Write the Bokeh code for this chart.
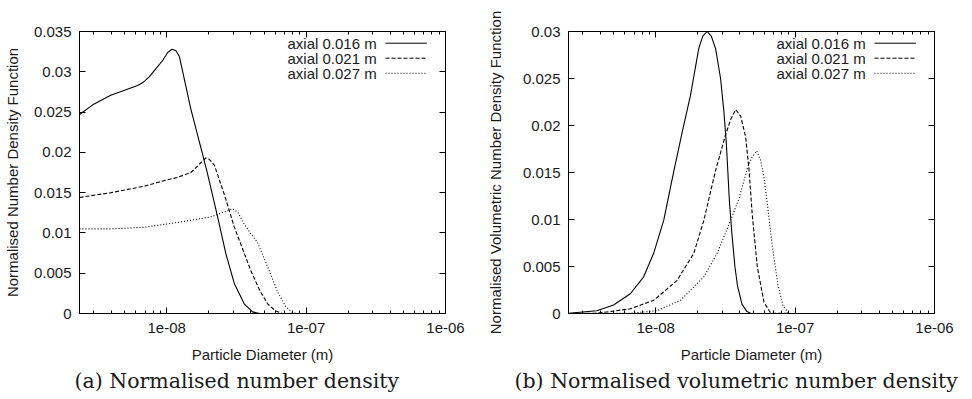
import math
from bokeh.plotting import figure
from bokeh.layouts import row
from bokeh.models import (FixedTicker, LogAxis, LinearAxis, CustomJSTickFormatter,
                          Label, Title, Range1d)
from bokeh.embed import file_html
from bokeh.resources import INLINE

# ---------------- data ----------------
series_labels = ["axial 0.016 m", "axial 0.021 m", "axial 0.027 m"]

x_major = [1e-8, 1e-7, 1e-6]
x_minor = [k * 10.0 ** e for e in (-9, -8, -7) for k in range(2, 10)]
y_major_a = [0.0, 0.005, 0.01, 0.015, 0.02, 0.025, 0.03, 0.035]
y_major_b = [0.0, 0.005, 0.01, 0.015, 0.02, 0.025, 0.03]

# (a) normalised number density
d_a_016 = [2.37e-9, 2.95e-9, 3.97e-9, 6.19e-9, 6.92e-9, 7.52e-9, 8.38e-9, 9.36e-9, 1.017e-8,
           1.092e-8, 1.166e-8, 1.233e-8, 1.49e-8, 1.936e-8, 2.32e-8, 2.66e-8, 3.06e-8,
           3.60e-8, 4.13e-8, 4.64e-8, 1.0e-7, 1.0e-6]
n_a_016 = [0.0247, 0.0259, 0.0271, 0.0283, 0.0288, 0.0294, 0.0304, 0.0314, 0.0324,
           0.0328, 0.0326, 0.0319, 0.0254, 0.0178, 0.0120, 0.0074, 0.0037,
           0.0012, 0.0002, 0.0, 0.0, 0.0]

d_a_021 = [2.37e-9, 3.99e-9, 6.92e-9, 9.63e-9, 1.20e-8, 1.49e-8, 1.668e-8, 1.80e-8, 1.91e-8,
           2.03e-8, 2.20e-8, 2.60e-8, 3.06e-8, 4.02e-8, 4.64e-8, 5.30e-8, 6.05e-8, 6.8e-8,
           1.0e-7, 1.0e-6]
n_a_021 = [0.0144, 0.0150, 0.0158, 0.0165, 0.0169, 0.0175, 0.0183, 0.0189, 0.0193,
           0.0191, 0.0184, 0.0147, 0.0107, 0.0053, 0.0029, 0.0012, 0.0003, 0.0,
           0.0, 0.0]

d_a_027 = [2.37e-9, 3.99e-9, 6.92e-9, 1.20e-8, 2.08e-8, 2.59e-8, 2.97e-8, 3.23e-8, 3.60e-8,
           4.02e-8, 4.49e-8, 5.30e-8, 6.24e-8, 7.13e-8, 8.0e-8, 8.69e-8, 1.0e-7, 1.0e-6]
n_a_027 = [0.0105, 0.0105, 0.0107, 0.0113, 0.0120, 0.0126, 0.0130, 0.0126, 0.0111,
           0.0099, 0.0088, 0.0058, 0.0027, 0.0009, 0.0001, 0.0, 0.0, 0.0]

# (b) normalised volumetric number density
d_b_016 = [2.37e-9, 3.78e-9, 4.99e-9, 6.58e-9, 8.20e-9, 9.67e-9, 1.142e-8, 1.347e-8, 1.55e-8,
           1.777e-8, 2.038e-8, 2.178e-8, 2.339e-8, 2.507e-8, 2.688e-8, 2.921e-8, 3.085e-8,
           3.216e-8, 3.296e-8, 3.379e-8, 3.522e-8, 3.701e-8, 3.858e-8, 4.156e-8, 4.516e-8,
           4.826e-8, 1.0e-7, 1.0e-6]
v_b_016 = [0.00003, 0.0003, 0.0009, 0.0021, 0.0039, 0.0064, 0.0099, 0.0151, 0.0193,
           0.0232, 0.0282, 0.0295, 0.0300, 0.0295, 0.0282, 0.0250, 0.0215,
           0.0180, 0.0150, 0.0120, 0.0085, 0.0050, 0.0030, 0.0010, 0.0002,
           0.0, 0.0, 0.0]

d_b_021 = [2.37e-9, 3.78e-9, 6.58e-9, 9.67e-9, 1.42e-8, 1.877e-8, 2.215e-8, 2.688e-8, 3.171e-8,
           3.446e-8, 3.745e-8, 4.069e-8, 4.418e-8, 4.668e-8, 4.93e-8, 5.356e-8, 5.98e-8,
           6.686e-8, 1.0e-7, 1.0e-6]
v_b_021 = [0.0, 0.00002, 0.0005, 0.0014, 0.0035, 0.0064, 0.0099, 0.0152, 0.0190,
           0.0206, 0.0217, 0.0210, 0.0188, 0.0154, 0.0105, 0.0050, 0.0012,
           0.00003, 0.0, 0.0]

d_b_027 = [2.37e-9, 6.6e-9, 1.022e-8, 1.506e-8, 2.215e-8, 2.761e-8, 3.446e-8, 3.955e-8, 4.54e-8,
           4.9e-8, 5.304e-8, 5.66e-8, 5.984e-8, 6.288e-8, 6.886e-8, 7.545e-8, 8.196e-8,
           9.05e-8, 1.0e-7, 1.0e-6]
v_b_027 = [0.0, 0.00002, 0.0003, 0.0014, 0.0039, 0.0064, 0.0099, 0.0122, 0.0154,
           0.0166, 0.0173, 0.0163, 0.0145, 0.0120, 0.0070, 0.0030, 0.0008,
           0.0, 0.0, 0.0]

# ---------------- styling ----------------
X_START, X_END = 2.37e-9, 1.0001e-6
SANS = "Liberation Sans"
SERIF = "DejaVu Serif"
TXT = "#1a1a1a"
DASHES = ["solid", "4 2", "1 2"]

x_fmt_code = """
const s = tick.toExponential();
return s.replace(/e([+-])(\\d)$/, function(m, a, b) { return 'e' + a + '0' + b; });
"""
y_fmt_code = "return String(parseFloat(tick.toFixed(4)));"
blank_code = "return '';"


def style_axis(ax):
    ax.axis_line_color = None
    ax.major_tick_in = 6
    ax.major_tick_out = 0
    ax.minor_tick_in = 3
    ax.minor_tick_out = 0
    ax.major_tick_line_color = "black"
    ax.minor_tick_line_color = "black"
    ax.major_label_text_font = SANS
    ax.major_label_text_font_size = "15px"
    ax.major_label_text_color = TXT
    ax.axis_label_text_font = SANS
    ax.axis_label_text_font_size = "15px"
    ax.axis_label_text_font_style = "normal"
    ax.axis_label_text_color = TXT


def xfrac(f):
    a, b = math.log10(X_START), math.log10(X_END)
    return 10 ** (a + f * (b - a))


def make_panel(ylabel, y_end, y_major, xs, ys, caption, min_left, min_right,
               ylab_standoff, cap_offset):
    p = figure(frame_width=366, frame_height=282, x_axis_type="log",
               x_range=Range1d(X_START, X_END), y_range=Range1d(0, y_end),
               output_backend="svg", toolbar_location=None,
               min_border_left=min_left, min_border_right=min_right,
               min_border_top=31, min_border_bottom=60,
               x_axis_label="Particle Diameter (m)", y_axis_label=ylabel)
    p.grid.visible = False
    p.outline_line_color = "black"
    p.outline_line_width = 1
    p.outline_line_alpha = 1
    p.background_fill_color = "white"
    p.border_fill_color = "white"

    xt = FixedTicker(ticks=x_major, minor_ticks=x_minor)
    yt = FixedTicker(ticks=y_major, minor_ticks=[])

    xax = p.xaxis[0]
    xax.ticker = xt
    xax.formatter = CustomJSTickFormatter(code=x_fmt_code)
    style_axis(xax)
    xax.major_label_standoff = 9
    xax.axis_label_standoff = 10

    yax = p.yaxis[0]
    yax.ticker = yt
    yax.formatter = CustomJSTickFormatter(code=y_fmt_code)
    style_axis(yax)
    yax.major_label_standoff = 8
    yax.axis_label_standoff = ylab_standoff

    top = LogAxis(ticker=xt, formatter=CustomJSTickFormatter(code=blank_code))
    style_axis(top)
    top.major_label_standoff = 0
    p.add_layout(top, "above")

    right = LinearAxis(ticker=yt, formatter=CustomJSTickFormatter(code=blank_code))
    style_axis(right)
    right.major_label_standoff = 0
    p.add_layout(right, "right")

    for x, y, dash in zip(xs, ys, DASHES):
        p.line(x, y, line_color="black", line_width=1.1, line_dash=dash,
               line_join="round")

    # gnuplot-style key: text right-aligned, sample line to the right
    row_fracs = [0.9585, 0.9053, 0.852]
    for lab, dash, rf in zip(series_labels, DASHES, row_fracs):
        yy = rf * y_end
        p.add_layout(Label(x=xfrac(0.812), y=yy, text=lab, text_align="right",
                           text_baseline="middle", text_font=SANS,
                           text_font_size="15px", text_color=TXT))
        p.line([xfrac(0.836), xfrac(0.949)], [yy, yy], line_color="black",
               line_width=1, line_dash=dash)

    cap = Title(text=caption, align="left", offset=cap_offset, text_font=SERIF,
                text_font_size="20.5px", text_font_style="normal", text_color=TXT,
                standoff=2)
    p.add_layout(cap, "below")
    return p


p1 = make_panel("Normalised Number Density Function", 0.035, y_major_a,
                [d_a_016, d_a_021, d_a_027], [n_a_016, n_a_021, n_a_027],
                "(a) Normalised number density", 74, 38, 10, -5)
p2 = make_panel("Normalised Volumetric Number Density Function", 0.03, y_major_b,
                [d_b_016, d_b_021, d_b_027], [v_b_016, v_b_021, v_b_027],
                "(b) Normalised volumetric number density", 83, 29, 16, -54)

layout = row(p1, p2)
open("out.html", "w").write(file_html(layout, INLINE))
